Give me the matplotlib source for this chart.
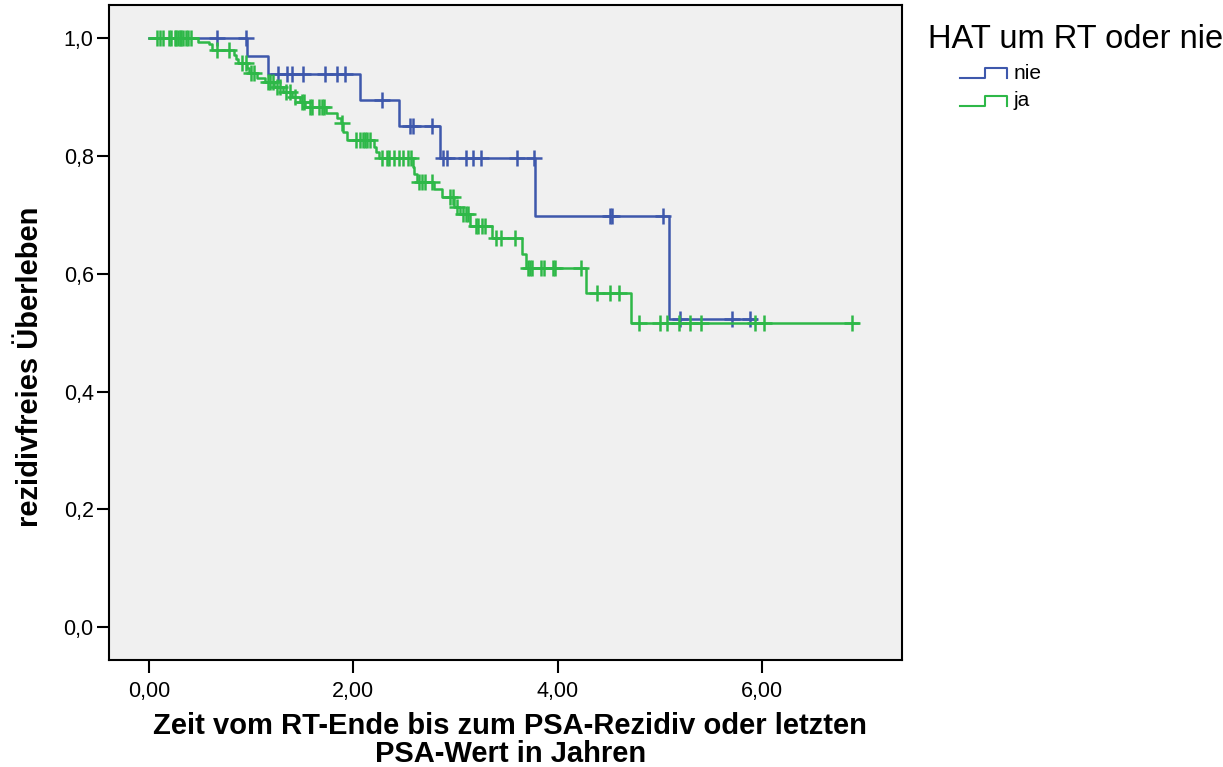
import numpy as np
import matplotlib
matplotlib.use("Agg")
import matplotlib.pyplot as plt
from matplotlib.lines import Line2D
from matplotlib.legend_handler import HandlerBase
from matplotlib.ticker import FuncFormatter

plt.rcParams["font.family"] = ["Liberation Sans", "DejaVu Sans"]

# ---- data ----
group_labels = ["nie", "ja"]
legend_title = "HAT um RT oder nie"

# "nie" (blue): step times and survival after each drop
nie_times = [0.0, 0.96, 1.16, 2.06, 2.45, 2.85, 3.78, 5.09]
nie_surv = [1.0, 0.970, 0.939, 0.895, 0.851, 0.797, 0.698, 0.523]
nie_end = 5.94
nie_censored = [0.67, 0.95, 1.26, 1.35, 1.40, 1.51, 1.72, 1.84, 1.92, 2.28,
                2.55, 2.58, 2.77, 2.88, 2.92, 3.10, 3.17, 3.25, 3.60, 3.77,
                4.51, 4.53, 5.03, 5.20, 5.70, 5.88]

# "ja" (green)
ja_times = [0.0, 0.475, 0.59, 0.615, 0.83, 0.85, 0.87, 0.96, 0.98, 1.06,
            1.14, 1.22, 1.31, 1.40, 1.48, 1.53, 1.73, 1.84, 1.875, 1.90,
            1.94, 2.20, 2.22, 2.25, 2.58, 2.59, 2.62, 2.79, 2.87, 2.98,
            3.04, 3.14, 3.36, 3.65, 3.69, 4.28, 4.72]
ja_surv = [1.0, 0.994, 0.989, 0.980, 0.971, 0.964, 0.957, 0.949, 0.941, 0.932,
           0.926, 0.917, 0.909, 0.900, 0.892, 0.883, 0.873, 0.864, 0.855, 0.841,
           0.827, 0.815, 0.807, 0.796, 0.781, 0.769, 0.756, 0.743, 0.730, 0.714,
           0.702, 0.681, 0.660, 0.634, 0.609, 0.568, 0.517]
ja_end = 6.94
ja_censored = [0.08, 0.11, 0.14, 0.20, 0.22, 0.25, 0.26, 0.28, 0.30, 0.31,
               0.33, 0.36, 0.38, 0.41, 0.67, 0.78, 0.91, 0.95, 1.00, 1.03,
               1.16, 1.18, 1.21, 1.25, 1.28, 1.34, 1.38, 1.43, 1.50, 1.52,
               1.58, 1.60, 1.66, 1.69, 1.71, 1.89, 2.03, 2.06, 2.09, 2.11,
               2.13, 2.16, 2.28, 2.33, 2.35, 2.40, 2.45, 2.49, 2.53, 2.56,
               2.64, 2.67, 2.70, 2.77, 2.95, 2.97, 3.01, 3.07, 3.10, 3.12,
               3.20, 3.22, 3.26, 3.29, 3.40, 3.44, 3.58, 3.71, 3.73, 3.75,
               3.84, 3.87, 3.95, 3.97, 4.23, 4.38, 4.51, 4.60, 4.79, 5.00,
               5.07, 5.19, 5.29, 5.40, 5.93, 6.02, 6.88]

x_ticks = [0, 2, 4, 6]
y_ticks = [0.0, 0.2, 0.4, 0.6, 0.8, 1.0]

colors = {"nie": "#3e58ac", "ja": "#2eb848"}


class StepHandler(HandlerBase):
    # small step glyph like the SPSS legend, indented inside the handle box
    def create_artists(self, legend, orig_handle, xdescent, ydescent,
                       width, height, fontsize, trans):
        x0 = -xdescent
        xs = [x0 + 0.405 * width, x0 + 0.72 * width, x0 + 0.72 * width,
              x0 + width, x0 + width]
        lo = -ydescent + 0.05 * height
        hi = -ydescent + 0.75 * height
        ys = [lo, lo, hi, hi, lo]
        return [Line2D(xs, ys, color=orig_handle.get_color(), lw=1.5,
                       transform=trans)]


def km_at(times, surv, t):
    idx = np.searchsorted(times, t, side="right") - 1
    return np.asarray(surv)[idx]


fig = plt.figure(figsize=(12.23, 7.67), dpi=100)
ax = fig.add_axes([109 / 1223, 1 - 660 / 767, 793 / 1223, 655 / 767])
ax.set_facecolor("#f0f0f0")

handles = []
for name, t, s, end, cens, z in [
    ("nie", nie_times, nie_surv, nie_end, nie_censored, 2),
    ("ja", ja_times, ja_surv, ja_end, ja_censored, 3),
]:
    tt = list(t) + [end]
    ss = list(s) + [s[-1]]
    (ln,) = ax.step(tt, ss, where="post", color=colors[name], lw=1.8, zorder=z)
    ax.plot(cens, km_at(t, s, cens), ls="none", marker="+", ms=11.5, mew=1.8,
            color=colors[name], zorder=z)
    handles.append(ln)

ax.set_xlim(-0.391, 7.368)
ax.set_ylim(-0.0555, 1.056)
ax.set_xticks(x_ticks)
ax.set_yticks(y_ticks)
ax.xaxis.set_major_formatter(FuncFormatter(lambda v, p: f"{v:.2f}".replace(".", ",")))
ax.yaxis.set_major_formatter(FuncFormatter(lambda v, p: f"{v:.1f}".replace(".", ",")))
ax.tick_params(axis="both", direction="out", length=9, width=1.5,
               labelsize=15.5, color="black")
ax.tick_params(axis="x", pad=6)
ax.tick_params(axis="y", pad=2)
for sp in ax.spines.values():
    sp.set_linewidth(1.5)
    sp.set_color("black")

ax.set_xlabel("Zeit vom RT-Ende bis zum PSA-Rezidiv oder letzten\nPSA-Wert in Jahren",
              fontsize=21, fontweight="bold", linespacing=1.0, va="top")
ax.xaxis.set_label_coords(0.506, -0.080)
ax.set_ylabel("rezidivfreies Überleben", fontsize=21, fontweight="bold")
ax.yaxis.set_label_coords(-0.082, 0.447)

bp = 0.45
fs = 15
fig.legend(handles, group_labels, title=legend_title, loc="upper left",
           bbox_to_anchor=((928 - bp * fs * 1.389) / 1223,
                           1 - (24 - bp * fs * 1.389) / 767),
           bbox_transform=fig.transFigure, frameon=False, fontsize=fs,
           title_fontsize=23.5, handlelength=3.8, handletextpad=0.3,
           labelspacing=0.42, borderpad=bp, borderaxespad=0, alignment="left",
           handler_map={h: StepHandler() for h in handles})

fig.savefig("out.png", dpi=100)
